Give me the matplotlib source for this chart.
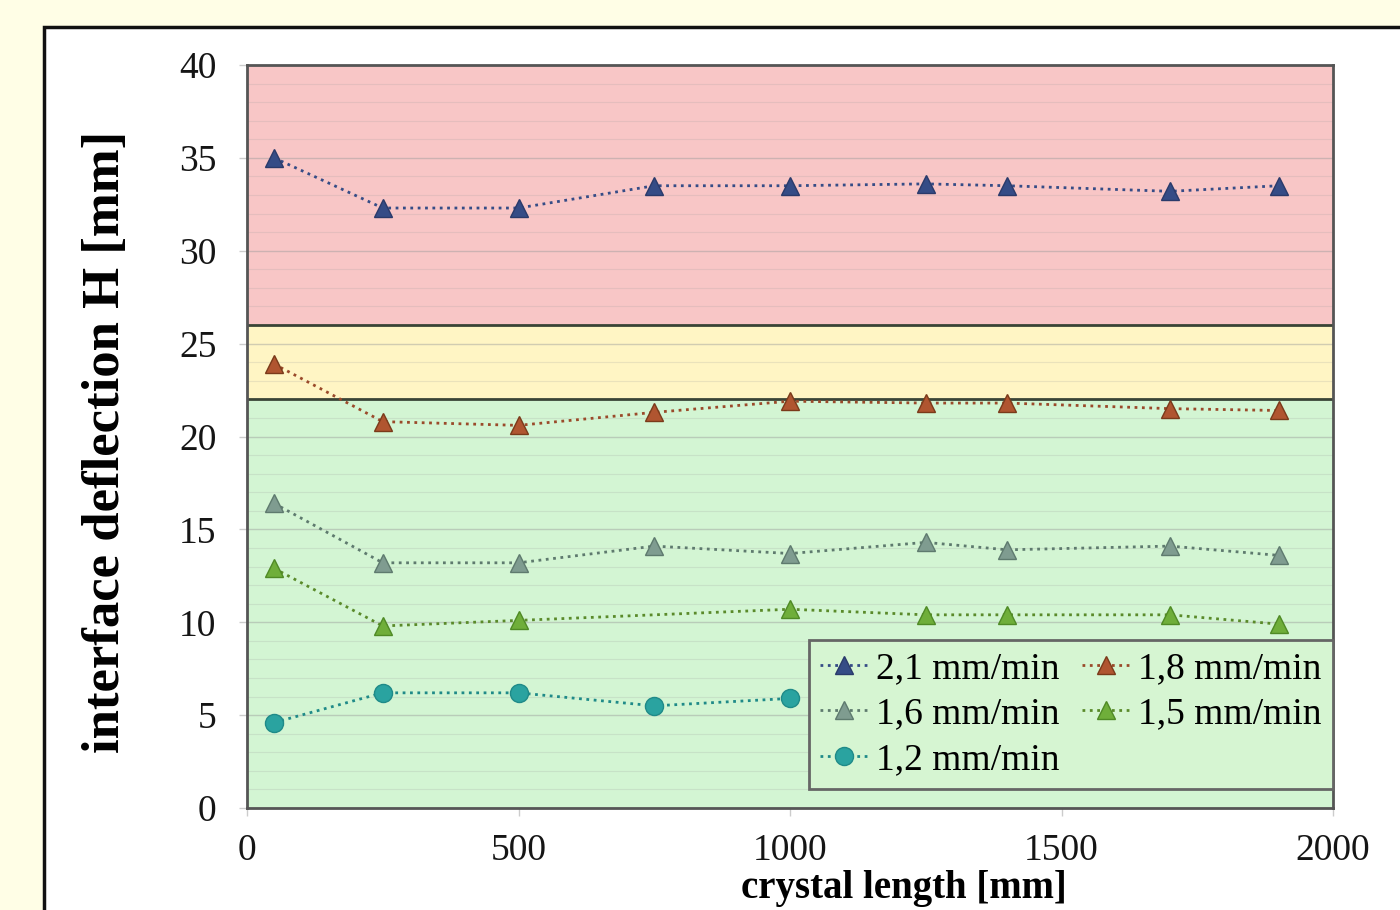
import matplotlib
matplotlib.use("Agg")
import matplotlib.pyplot as plt
from matplotlib.patches import Rectangle
from matplotlib.ticker import MultipleLocator

plt.rcParams['font.family'] = ['Liberation Serif', 'DejaVu Serif']

# ---- data ----
x_all = [50, 250, 500, 750, 1000, 1250, 1400, 1700, 1900]
y_21 = [35.0, 32.3, 32.3, 33.5, 33.5, 33.6, 33.5, 33.2, 33.5]
y_18 = [23.9, 20.8, 20.6, 21.3, 21.9, 21.8, 21.8, 21.5, 21.4]
y_16 = [16.4, 13.2, 13.2, 14.1, 13.7, 14.3, 13.9, 14.1, 13.6]
x_15 = [50, 250, 500, 1000, 1250, 1400, 1700, 1900]
y_15 = [12.9, 9.8, 10.1, 10.7, 10.4, 10.4, 10.4, 9.9]
x_12 = [50, 250, 500, 750, 1000]
y_12 = [4.6, 6.2, 6.2, 5.5, 5.9]
labels = ["2,1 mm/min", "1,8 mm/min", "1,6 mm/min", "1,5 mm/min", "1,2 mm/min"]
zone_limits = [0, 22, 26, 40]
x_ticks = [0, 500, 1000, 1500, 2000]
y_ticks = [0, 5, 10, 15, 20, 25, 30, 35, 40]

fig = plt.figure(figsize=(14, 9.1), dpi=100, facecolor='#FFFEE6')
# white panel with black border
panel = Rectangle((44/1400, -0.05), 1.0, (1 - 27/910) + 0.05, transform=fig.transFigure,
                  facecolor='white', edgecolor='#111111', lw=2.5, zorder=0)
fig.add_artist(panel)

ax = fig.add_axes([247/1400, 1 - 808/910, (1333-247)/1400, (808-65)/910])
ax.set_xlim(0, 2000)
ax.set_ylim(0, 40)

# zones
ax.axhspan(zone_limits[0], zone_limits[1], color='#D3F5D3', zorder=0, lw=0)
ax.axhspan(zone_limits[1], zone_limits[2], color='#FFF5C4', zorder=0, lw=0)
ax.axhspan(zone_limits[2], zone_limits[3], color='#F8C6C6', zorder=0, lw=0)
for yl in zone_limits[1:3]:
    ax.axhline(yl, color='#3A4436', lw=2, zorder=1)

ax.yaxis.set_minor_locator(MultipleLocator(1))
ax.grid(which='major', axis='y', color='#9a9a9a', lw=1.0, alpha=0.45, zorder=0.5)
ax.grid(which='minor', axis='y', color='#9a9a9a', lw=0.8, alpha=0.2, zorder=0.5)
ax.set_axisbelow(True)

ms = 13
h21, = ax.plot(x_all, y_21, ls=':', lw=2, color='#354C86', marker='^', ms=ms,
               mec='#2A3A6A', zorder=3, label=labels[0])
h18, = ax.plot(x_all, y_18, ls=':', lw=2, color='#9A4A2A', marker='^', ms=ms,
               mfc='#B05530', mec='#7A3A1A', zorder=3, label=labels[1])
h16, = ax.plot(x_all, y_16, ls=':', lw=2, color='#5E7A6E', marker='^', ms=ms,
               mfc='#7F9C90', mec='#5E7A6E', zorder=3, label=labels[2])
h15, = ax.plot(x_15, y_15, ls=':', lw=2, color='#5A8A2A', marker='^', ms=ms,
               mfc='#6FAE3A', mec='#4F8A25', zorder=3, label=labels[3])
h12, = ax.plot(x_12, y_12, ls=':', lw=2, color='#1F8A88', marker='o', ms=ms,
               mfc='#2AA3A0', mec='#1F8A88', zorder=3, label=labels[4])

for sp in ax.spines.values():
    sp.set_color('#555555')
    sp.set_linewidth(2)

ax.set_xticks(x_ticks)
ax.set_yticks(y_ticks)
ax.tick_params(axis='both', which='major', labelsize=27, colors='#cccccc',
               labelcolor='#151515', length=6, width=1, direction='out')
ax.tick_params(axis='x', pad=12)
ax.tick_params(axis='y', pad=16)
ax.tick_params(axis='y', which='minor', length=0)

ax.set_xlabel('crystal length [mm]', fontsize=28, fontweight='bold')
ax.xaxis.set_label_coords(0.605, -0.083)
ax.set_ylabel('interface deflection H [mm]', fontsize=38, fontweight='bold')
ax.yaxis.set_label_coords(-0.108, 0.493)

leg = ax.legend(handles=[h21, h16, h12, h18, h15], ncol=2, loc='upper right',
                bbox_to_anchor=(1.0, (808-640)/743), fontsize=27, frameon=True,
                fancybox=False, edgecolor='#666666', facecolor='#D6F5D2',
                framealpha=1.0, handlelength=1.3, handletextpad=0.2,
                columnspacing=0.6, labelspacing=0.3, borderpad=0.3,
                borderaxespad=0)
leg.get_frame().set_linewidth(2)
leg.set_zorder(5)

fig.savefig('out.png', dpi=100, facecolor=fig.get_facecolor())
